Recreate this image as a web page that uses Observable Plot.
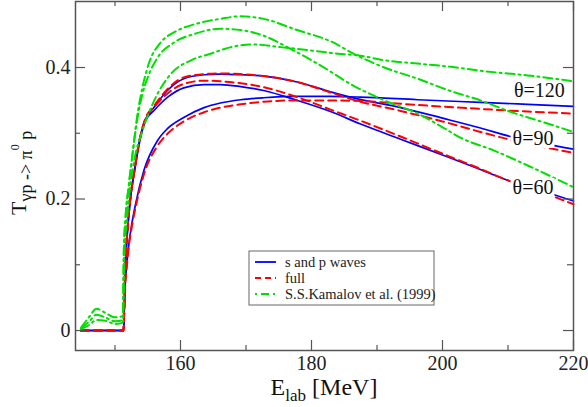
<!DOCTYPE html>
<html><head><meta charset="utf-8">
<script src="https://cdn.jsdelivr.net/npm/d3@7"></script>
<script src="https://cdn.jsdelivr.net/npm/@observablehq/plot@0.6"></script>
<style>body{margin:0;background:#fff;} svg{display:block;}</style>
</head><body><div id="chart"></div>
<script>
// [E_lab (MeV), T]
const sp60 = [[144.8,0],[151.3,0],[151.45,0.05],[151.6,0.10],[151.9,0.15],[152.3,0.195],[153.0,0.243],[153.8,0.289],[154.6,0.318],[156.0,0.335],[158.2,0.356],[160.5,0.369],[163.6,0.374],[166.1,0.374],[169.2,0.371],[172.7,0.365],[177.8,0.350],[182.9,0.333],[187.5,0.314],[193.6,0.291],[200,0.267],[205,0.248],[210.1,0.228],[215,0.213],[220,0.197]];
const sp90 = [[144.8,0],[151.3,0],[151.45,0.05],[151.6,0.10],[151.9,0.152],[152.3,0.197],[153.0,0.246],[153.8,0.292],[154.6,0.320],[156.0,0.340],[158.0,0.365],[160.5,0.383],[163.6,0.389],[166.1,0.390],[169.2,0.389],[172.7,0.387],[177.8,0.378],[182.9,0.363],[186.7,0.353],[193.6,0.339],[200,0.323],[205.8,0.308],[210.4,0.295],[215,0.285],[220,0.276]];
const sp120 = [[144.8,0],[151.3,0],[151.5,0.06],[151.8,0.10],[152.1,0.13],[152.5,0.158],[153.2,0.195],[154.4,0.243],[156.5,0.289],[158.0,0.307],[160.5,0.324],[163.6,0.339],[166.1,0.346],[169.2,0.351],[172.7,0.354],[177.8,0.356],[182.9,0.356],[187.5,0.355],[196.2,0.351],[205.8,0.347],[213,0.344],[220,0.341]];
const full60 = [[144.8,0],[151.3,0],[151.45,0.05],[151.6,0.10],[151.9,0.152],[152.3,0.197],[153.0,0.246],[153.8,0.292],[154.6,0.321],[156.0,0.340],[158.2,0.362],[160.5,0.375],[163.6,0.380],[166.1,0.379],[169.2,0.376],[172.7,0.370],[177.8,0.355],[182.9,0.336],[187.5,0.319],[193.6,0.295],[200,0.269],[205,0.249],[210.1,0.228],[215,0.211],[220,0.192]];
const full90 = [[144.8,0],[151.3,0],[151.45,0.05],[151.6,0.10],[151.9,0.152],[152.3,0.197],[153.0,0.246],[153.8,0.292],[154.6,0.321],[156.0,0.342],[158.0,0.367],[160.5,0.385],[163.6,0.390],[166.1,0.391],[169.2,0.390],[172.7,0.387],[177.8,0.378],[182.9,0.362],[186.7,0.350],[193.6,0.334],[200,0.318],[205.8,0.302],[210.4,0.290],[215,0.280],[220,0.270]];
const full120 = [[144.8,0],[151.3,0],[151.5,0.058],[151.8,0.097],[152.1,0.127],[152.5,0.154],[153.2,0.19],[154.4,0.237],[156.5,0.281],[158.0,0.299],[160.5,0.318],[163.6,0.332],[166.1,0.339],[169.2,0.344],[172.7,0.348],[177.8,0.350],[182.9,0.350],[187.5,0.349],[196.2,0.343],[205.8,0.337],[213,0.333],[220,0.330]];
const kam60 = [[144.8,0.003],[146.0,0.013],[147.2,0.024],[148.5,0.02],[150.0,0.014],[151.2,0.016],[151.35,0.12],[151.6,0.17],[152.1,0.22],[152.7,0.27],[153.3,0.315],[154.2,0.36],[155.0,0.385],[156.5,0.415],[159.0,0.438],[162.1,0.451],[166.1,0.459],[169.2,0.457],[173.3,0.446],[176.3,0.431],[180.9,0.406],[186.3,0.373],[191.1,0.350],[196.2,0.330],[199.7,0.311],[202.8,0.293],[207.8,0.274],[213,0.251],[220,0.218]];
const kam90 = [[144.8,0.004],[146.0,0.02],[147.2,0.033],[148.5,0.027],[150.0,0.02],[151.2,0.022],[151.35,0.12],[151.6,0.17],[152.1,0.22],[152.7,0.27],[153.3,0.32],[154.2,0.37],[155.3,0.41],[156.8,0.436],[159.3,0.455],[162.6,0.467],[166.1,0.474],[169.2,0.478],[172.7,0.474],[177.8,0.457],[182.9,0.440],[187.0,0.418],[191.1,0.400],[196.2,0.383],[201.3,0.364],[205.8,0.350],[210,0.334],[215,0.318],[220,0.302]];
const kam120 = [[144.8,0.002],[146.0,0.008],[147.2,0.016],[148.5,0.015],[150.0,0.01],[151.2,0.012],[151.45,0.12],[151.8,0.167],[152.3,0.218],[153.0,0.262],[154.2,0.304],[156.0,0.350],[158.5,0.390],[161.6,0.411],[164.6,0.421],[167.7,0.431],[171.0,0.435],[175.3,0.431],[179.9,0.426],[184.0,0.421],[187.5,0.418],[191.1,0.411],[196.2,0.406],[201.3,0.401],[205.8,0.395],[213,0.388],[220,0.379]];

const xMajor = [160, 180, 200, 220];
const xMinor = [150, 170, 190, 210];
const yMajor = [0, 0.2, 0.4];
const yMinor = [0.1, 0.3];
const labelText = ["θ=120", "θ=90", "θ=60"];
const labelE = [210.9, 210.7, 210.7];
const labelT = [0.365, 0.292, 0.2175];
const legendNames = ["s and p waves", "full", "S.S.Kamalov et al. (1999)"];

const toRows = (pts, angle) => pts.map(([E, T]) => ({E, T, angle}));
const spRows = [...toRows(sp60, 60), ...toRows(sp90, 90), ...toRows(sp120, 120)];
const fullRows = [...toRows(full60, 60), ...toRows(full90, 90), ...toRows(full120, 120)];
const kamRows = [...toRows(kam60, 60), ...toRows(kam90, 90), ...toRows(kam120, 120)];
const labels = labelText.map((t, i) => ({t, E: labelE[i], T: labelT[i]}));

const W = 588, H = 407, mL = 75, mR = 15, mT = 1, mB = 57;
const fw = W - mL - mR, fh = H - mT - mB;
const BLUE = "#0000ff", RED = "#ff0000", GREEN = "#00e000", AX = "#555";
const serif = "Liberation Serif, Times New Roman, DejaVu Serif, serif";

const chart = Plot.plot({
  width: W, height: H,
  marginLeft: mL, marginRight: mR, marginTop: mT, marginBottom: mB,
  style: {fontFamily: serif, fontSize: "20px", color: "#222", background: "#fff"},
  x: {domain: [143.97, 220]},
  y: {domain: [-0.0304, 0.5004]},
  marks: [
    Plot.axisX({ticks: xMajor, tickSize: 0, tickPadding: 5, label: null, fontFamily: serif, tickFormat: d => String(d)}),
    Plot.axisY({ticks: yMajor, tickSize: 0, tickPadding: 5, label: null, fontFamily: serif, tickFormat: d => d === 0 ? "0" : d.toFixed(1)}),
    Plot.line(spRows, {x: "E", y: "T", z: "angle", stroke: BLUE, strokeWidth: 1.7, curve: "monotone-x"}),
    Plot.line(fullRows, {x: "E", y: "T", z: "angle", stroke: RED, strokeWidth: 2, strokeDasharray: "8,5", curve: "monotone-x"}),
    Plot.line(kamRows, {x: "E", y: "T", z: "angle", stroke: GREEN, strokeWidth: 2, strokeDasharray: "9,4,2,4", curve: "monotone-x"}),
    Plot.text(labels, {x: "E", y: "T", text: "t", textAnchor: "start", fontSize: 20, fontFamily: serif, fill: "#111"}),
    Plot.tickX(xMajor, {x: d => d, stroke: AX, strokeWidth: 1.2, insetTop: fh - 10}),
    Plot.tickX(xMajor, {x: d => d, stroke: AX, strokeWidth: 1.2, insetBottom: fh - 10}),
    Plot.tickX(xMinor, {x: d => d, stroke: AX, strokeWidth: 1.2, insetTop: fh - 5}),
    Plot.tickX(xMinor, {x: d => d, stroke: AX, strokeWidth: 1.2, insetBottom: fh - 5}),
    Plot.tickY(yMajor, {y: d => d, stroke: AX, strokeWidth: 1.2, insetRight: fw - 10}),
    Plot.tickY(yMajor, {y: d => d, stroke: AX, strokeWidth: 1.2, insetLeft: fw - 10}),
    Plot.tickY(yMinor, {y: d => d, stroke: AX, strokeWidth: 1.2, insetRight: fw - 5}),
    Plot.tickY(yMinor, {y: d => d, stroke: AX, strokeWidth: 1.2, insetLeft: fw - 6}),
    Plot.frame({stroke: AX, strokeWidth: 1.5})
  ]
});
document.getElementById("chart").appendChild(chart);

const svg = d3.select(chart);
// white boxes behind the angle labels (same transform as the text)
svg.selectAll('g[aria-label="text"] text').each(function() {
  const b = this.getBBox();
  d3.select(this.parentNode).insert("rect", () => this)
    .attr("transform", this.getAttribute("transform"))
    .attr("x", b.x - 2).attr("y", b.y + 2).attr("width", b.width + 3).attr("height", b.height - 3)
    .attr("fill", "#fff");
});

// x axis title
const xt = svg.append("text").attr("x", 324).attr("y", 395).attr("text-anchor", "middle")
  .attr("font-family", serif).attr("fill", "#111");
xt.append("tspan").attr("font-size", 24).text("E");
xt.append("tspan").attr("font-size", 17).attr("dy", 6).text("lab");
xt.append("tspan").attr("font-size", 24).attr("dy", -6).text(" [MeV]");

// y axis title
const yt = svg.append("text").attr("transform", "translate(26,215) rotate(-90)").attr("text-anchor", "start")
  .attr("font-family", serif).attr("fill", "#111");
yt.append("tspan").attr("font-size", 22).text("T");
yt.append("tspan").attr("font-size", 18).attr("dy", 6).text("γp -> π");
yt.append("tspan").attr("font-size", 12).attr("dy", -13).text("0");
yt.append("tspan").attr("font-size", 18).attr("dy", 13).text(" p");

// legend
const lg = svg.append("g");
lg.append("rect").attr("x", 249).attr("y", 251).attr("width", 185).attr("height", 54)
  .attr("fill", "#fff").attr("stroke", "#666").attr("stroke-width", 1);
const lstyles = [[BLUE, null, 1.8], [RED, "6,4", 2], [GREEN, "2,4,8,4", 2]];
legendNames.forEach((name, i) => {
  const y = 262 + i * 16;
  lg.append("line").attr("x1", 255).attr("x2", 276).attr("y1", y).attr("y2", y)
    .attr("stroke", lstyles[i][0]).attr("stroke-width", lstyles[i][2])
    .attr("stroke-dasharray", lstyles[i][1]);
  lg.append("text").attr("x", 285).attr("y", y).attr("dy", "0.35em").attr("text-anchor", "start")
    .attr("font-family", serif).attr("font-size", 14.5).attr("fill", "#222").text(name);
});
</script></body></html>
